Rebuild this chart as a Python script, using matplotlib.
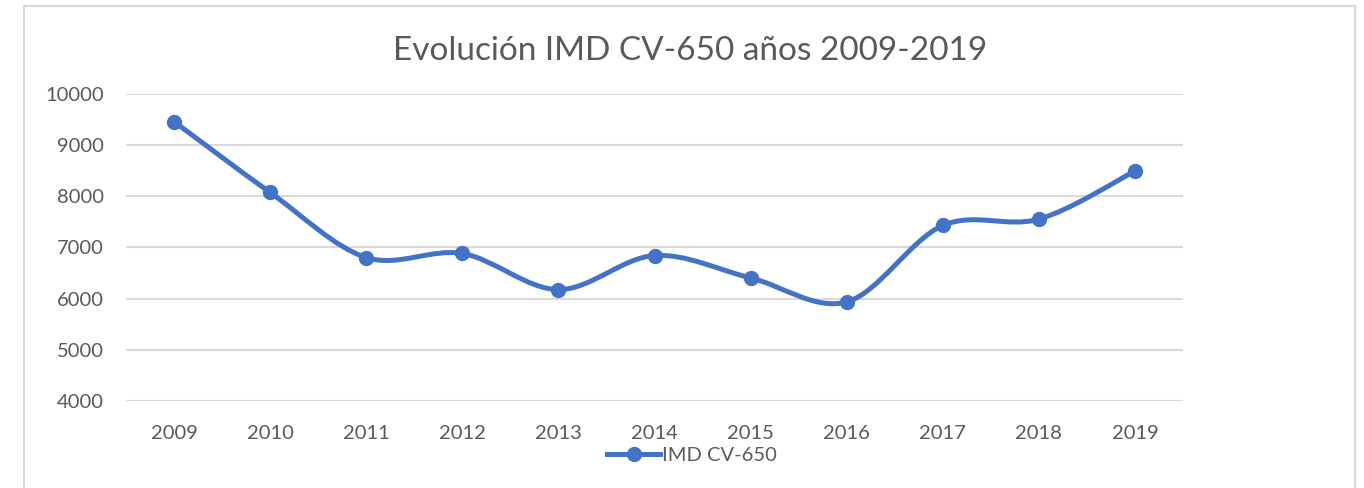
import numpy as np
import matplotlib
matplotlib.use("Agg")
import matplotlib.pyplot as plt
from matplotlib.path import Path
from matplotlib.patches import PathPatch, Rectangle
from matplotlib.lines import Line2D

# data
years = ["2009", "2010", "2011", "2012", "2013", "2014", "2015", "2016", "2017", "2018", "2019"]
imd = [9460, 8076, 6804, 6883, 6178, 6843, 6406, 5937, 7430, 7554, 8493]
yticks = [4000, 5000, 6000, 7000, 8000, 9000, 10000]

TITLE = "Evolución IMD CV-650 años 2009-2019"
SERIES = "IMD CV-650"
BLUE = "#4472C4"
GREY = "#595959"
GRID = "#D9D9D9"

plt.rcParams['font.family'] = ['Lato', 'DejaVu Sans']

fig = plt.figure(figsize=(13.64, 4.88), dpi=100)
W, H = 1364, 488
fig.patches.append(Rectangle((24 / W, -0.1), (1355 - 24) / W, 1.1 - 6 / H,
                             transform=fig.transFigure, fill=False,
                             edgecolor=GRID, linewidth=1.5))

ax = fig.add_axes([126 / W, 1 - 401 / H, (1183 - 126) / W, (401 - 94) / H])
x = np.arange(len(years))
y = np.array(imd, dtype=float)


def smooth_path(xs, ys):
    # Excel-like smoothed line: cubic Bezier with Catmull-Rom control points
    pts = np.column_stack([xs, ys])
    verts = [pts[0]]
    codes = [Path.MOVETO]
    n = len(pts)
    for i in range(n - 1):
        p0 = pts[i - 1] if i > 0 else pts[i]
        p1, p2 = pts[i], pts[i + 1]
        p3 = pts[i + 2] if i + 2 < n else pts[i + 1]
        c1 = p1 + (p2 - p0) / 6.0
        c2 = p2 - (p3 - p1) / 6.0
        verts += [c1, c2, p2]
        codes += [Path.CURVE4] * 3
    return Path(verts, codes)


ax.add_patch(PathPatch(smooth_path(x, y), facecolor="none", edgecolor=BLUE,
                       linewidth=3.6, capstyle="round", joinstyle="round", zorder=3))
ax.plot(x, y, linestyle="none", marker="o", markersize=10, color=BLUE, zorder=4)

ax.set_xlim(-0.5, len(years) - 0.5)
ax.set_ylim(4000, 10000)
ax.set_xticks(x)
ax.set_xticklabels(years)
ax.set_yticks(yticks)
ax.tick_params(axis="both", length=0, labelsize=14.5, labelcolor=GREY)
ax.tick_params(axis="x", pad=17)
ax.tick_params(axis="y", pad=16)
ax.grid(axis="y", color=GRID, linewidth=1.5)
ax.set_axisbelow(True)
for s in ax.spines.values():
    s.set_visible(False)

fig.text(690 / W, 1 - 51 / H, TITLE, ha="center", va="center", fontsize=24, color=GREY)

handle = Line2D([], [], color=BLUE, linewidth=3.6, marker="o", markersize=10)
fig.legend([handle], [SERIES], loc="center", bbox_to_anchor=(692 / W, 1 - 455 / H),
           frameon=False, fontsize=14.5, labelcolor=GREY, handlelength=2.6,
           handletextpad=0.1, borderpad=0)

fig.savefig("out.png", dpi=100, facecolor="white")
